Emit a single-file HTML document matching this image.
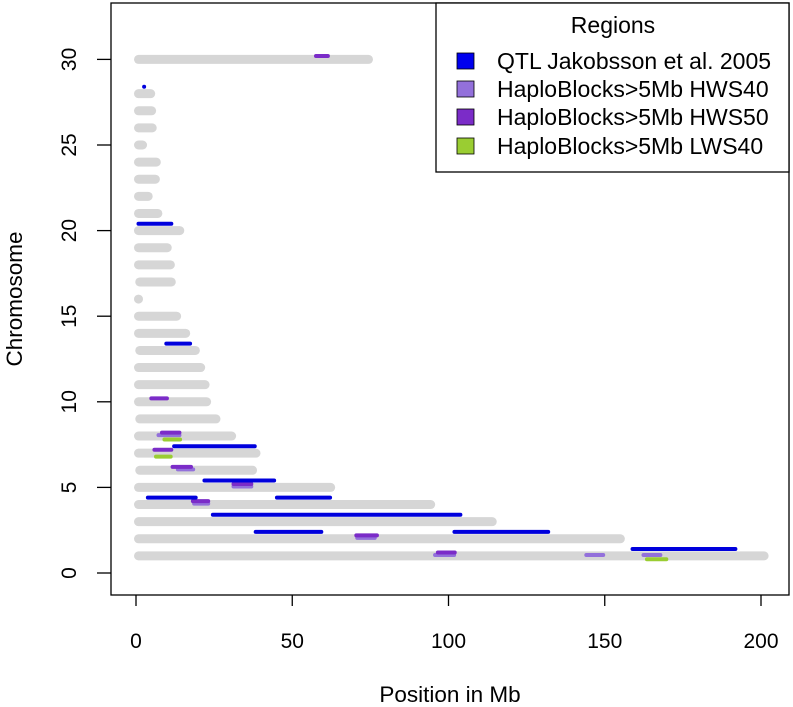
<!DOCTYPE html>
<html><head><meta charset="utf-8"><style>
html,body{margin:0;padding:0;background:#fff;}
svg{display:block;font-family:"Liberation Sans",Arial,sans-serif;}
</style></head><body>
<svg id="chart" width="793" height="707" viewBox="0 0 793 707">
<g id="grays"></g>
<g id="regions"></g>
<g id="axes"></g>
<rect x="111" y="3" width="678" height="592" fill="none" stroke="#000" stroke-width="1.3"/>
<text x="450" y="702" font-size="22.5" text-anchor="middle">Position in Mb</text>
<text transform="translate(22,299) rotate(-90)" font-size="22.5" text-anchor="middle">Chromosome</text>
<g>
<rect x="436" y="3" width="353" height="169" fill="#fff" stroke="#000" stroke-width="1.3"/>
<text x="613" y="33" font-size="23" text-anchor="middle">Regions</text>
<g><rect x="457" y="53" width="17" height="16" fill="#0000EE" stroke="#000" stroke-width="0.8"/><text x="497" y="69" font-size="23">QTL Jakobsson et al. 2005</text></g>
<g><rect x="457" y="81" width="17" height="16" fill="#9370DB" stroke="#000" stroke-width="0.8"/><text x="497" y="97" font-size="23">HaploBlocks&gt;5Mb HWS40</text></g>
<g><rect x="457" y="109" width="17" height="16" fill="#7B2CC8" stroke="#000" stroke-width="0.8"/><text x="497" y="125" font-size="23">HaploBlocks&gt;5Mb HWS50</text></g>
<g><rect x="457" y="138" width="17" height="16" fill="#9ACD32" stroke="#000" stroke-width="0.8"/><text x="497" y="154" font-size="23">HaploBlocks&gt;5Mb LWS40</text></g>
</g>
</svg>
<script>
const chromosomes = [1,2,3,4,5,6,7,8,9,10,11,12,13,14,15,16,17,18,19,20,21,22,23,24,25,26,27,28,30];
const chromStarts = [0.8,0.8,0.8,0.8,0.8,1.2,0.8,0.8,1.2,0.8,0.8,0.8,1.2,0.8,0.8,0.8,1.2,0.8,0.8,0.8,0.8,0.8,0.8,0.8,0.8,0.8,0.8,0.8,0.8];
const chromEnds = [201,155,114,94.3,62.3,37.3,38.4,30.6,25.6,22.6,22.1,20.7,19,15.9,13,0.8,11.3,11,10,14,7,3.9,6.2,6.5,2.1,5.2,5,4.7,74.4];
const qtlChrom = [28,20,13,7,5,4,4,3,2,2,1];
const qtlStart = [2.6,0.8,9.7,12.2,21.9,3.8,45.1,24.6,38.3,101.9,158.9];
const qtlEnd = [2.6,11.3,17.3,38,44.2,19.1,62.1,103.8,59.3,131.9,191.8];
const hws40Chrom = [8,6,5,4,2,1,1,1];
const hws40Start = [7.2,13.4,31.2,18.6,70.8,95.7,144.1,162.4];
const hws40End = [13.9,18.3,36.9,23.1,76.4,101.8,149.5,167.8];
const hws50Chrom = [30,10,8,7,6,5,4,2,1];
const hws50Start = [57.6,4.9,8.3,5.9,11.7,31.2,18.2,70.5,96.6];
const hws50End = [61.4,9.9,13.9,11.3,17.6,36.9,23.1,77.1,102];
const lws40Chrom = [8,7,1];
const lws40Start = [9.1,6.4,163.5];
const lws40End = [14.1,11.1,169.7];
const xTicks = [0,50,100,150,200];
const yTicks = [0,5,10,15,20,25,30];

const NS='http://www.w3.org/2000/svg';
const X = v => 136 + v*3.125;
const Y = v => 573 - v*17.12;
function line(parent,x1,y1,x2,y2,color,w,cap){
  const l=document.createElementNS(NS,'line');
  l.setAttribute('x1',x1);l.setAttribute('y1',y1);l.setAttribute('x2',x2);l.setAttribute('y2',y2);
  l.setAttribute('stroke',color);l.setAttribute('stroke-width',w);l.setAttribute('stroke-linecap',cap||'round');
  parent.appendChild(l);return l;
}
const grays=document.getElementById('grays');
chromosomes.forEach((c,i)=>{
  const l=line(grays,X(chromStarts[i]),Y(c),X(chromEnds[i]),Y(c),'#D6D6D6',9);
  
  
});
const reg=document.getElementById('regions');
function series(ch,st,en,color,off,name){
  ch.forEach((c,i)=>{
    const l=line(reg,X(st[i]),Y(c+off),X(en[i]),Y(c+off),color,4);
    
    
  });
}
series(hws40Chrom,hws40Start,hws40End,'#9370DB',0.05,'hws40-block');
series(hws50Chrom,hws50Start,hws50End,'#7B2CC8',0.2,'hws50-block');
series(lws40Chrom,lws40Start,lws40End,'#9ACD32',-0.2,'lws40-block');
series(qtlChrom,qtlStart,qtlEnd,'#0000DD',0.4,'qtl-region');
const axes=document.getElementById('axes');
xTicks.forEach(t=>{
  line(axes,X(t),595,X(t),606,'#000',1.3,'butt');
  const tx=document.createElementNS(NS,'text');
  tx.setAttribute('x',X(t));tx.setAttribute('y',648);tx.setAttribute('font-size','21');tx.setAttribute('text-anchor','middle');
  tx.textContent=t;
  
  
  axes.appendChild(tx);
});
yTicks.forEach(t=>{
  line(axes,97,Y(t),111,Y(t),'#000',1.3,'butt');
  const tx=document.createElementNS(NS,'text');
  tx.setAttribute('transform','translate(76,'+Y(t)+') rotate(-90)');tx.setAttribute('font-size','21');tx.setAttribute('text-anchor','middle');
  tx.textContent=t;
  
  
  axes.appendChild(tx);
});
</script>
</body></html>
